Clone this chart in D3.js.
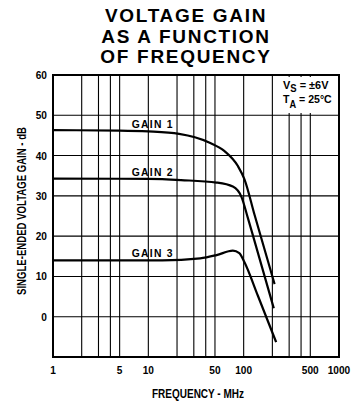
<!DOCTYPE html>
<html>
<head>
<meta charset="utf-8">
<script src="https://cdn.jsdelivr.net/npm/d3@7"></script>
<style>
  body { margin: 0; background: #fff; }
  svg { display: block; }
  text { font-family: "Liberation Sans", Arial, sans-serif; }
</style>
</head>
<body>
<svg width="356" height="408"></svg>
<script>
// values
const titleLines = ["VOLTAGE GAIN", "AS A FUNCTION", "OF FREQUENCY"];
const xTickLabels = [1, 5, 10, 50, 100, 500, 1000];
const xGrid = [2, 3, 4, 5, 10, 20, 30, 40, 50, 100, 200, 300, 400, 500];
const yGrid = [0, 10, 20, 30, 40, 50];
const yTickLabels = [0, 10, 20, 30, 40, 50, 60];

const gain1Freq = [1, 5, 10, 21, 44, 63, 87, 102, 130, 211];
const gain1Db   = [46.3, 46.2, 46, 45.4, 43.2, 41.1, 37.4, 34.1, 25.3, 8.1];
const gain2Freq = [1, 10, 22, 52, 77, 95, 111, 125, 207];
const gain2Db   = [34.3, 34.2, 33.9, 33.3, 32.3, 29.7, 24.4, 20.2, 2.1];
const gain3Freq = [1, 14, 35, 52, 77, 90, 102, 141, 219];
const gain3Db   = [14, 14, 14.5, 15.3, 16.4, 15.8, 13.5, 5.2, -6.3];
const curveNames = ["GAIN 1", "GAIN 2", "GAIN 3"];
const labelAt = [[6.7, 46.9], [6.7, 34.9], [6.7, 14.9]];

const svg = d3.select("svg");

const x = d3.scaleLog().domain([1, 1000]).range([53, 339]);
const y = d3.scaleLinear().domain([-10, 60]).range([357, 75]);

// squeeze text sideways, the original uses a condensed face
const squeeze = 0.88;

// title
svg.append("g").selectAll("text")
  .data(titleLines)
  .join("text")
  .attr("x", 186)
  .attr("y", (d, i) => 22 + i * 20.5)
  .attr("text-anchor", "middle")
  .attr("font-weight", "bold")
  .attr("font-size", 19)
  .attr("letter-spacing", 1.7)
  .text(d => d);

// grid
const grid = svg.append("g").attr("stroke", "#000").attr("stroke-width", 1.1);
grid.selectAll(".vx")
  .data(xGrid)
  .join("line")
  .attr("x1", d => x(d)).attr("x2", d => x(d))
  .attr("y1", y(60)).attr("y2", y(-10));
grid.selectAll(".hy")
  .data(yGrid)
  .join("line")
  .attr("x1", x(1)).attr("x2", x(1000))
  .attr("y1", d => y(d)).attr("y2", d => y(d));

// conditions, on a white patch over the grid
svg.append("rect")
  .attr("x", 280).attr("y", 77)
  .attr("width", 57).attr("height", 36)
  .attr("fill", "#fff");

const note = svg.append("g")
  .attr("font-size", 11.5).attr("font-weight", "bold");
const l1 = note.append("text").attr("transform", "translate(283,89) scale(0.95,1)");
l1.append("tspan").text("V");
l1.append("tspan").attr("font-size", 10).attr("dy", 2.5).text("S");
l1.append("tspan").attr("dy", -2.5).text(" = ±6V");
const l2 = note.append("text").attr("transform", "translate(283,102.5) scale(0.92,1)");
l2.append("tspan").text("T");
l2.append("tspan").attr("font-size", 10).attr("dy", 5.5).text("A");
l2.append("tspan").attr("dy", -5.5).text(" = 25°C");

// frame
svg.append("rect")
  .attr("x", x(1)).attr("y", y(60))
  .attr("width", x(1000) - x(1)).attr("height", y(-10) - y(60))
  .attr("fill", "none").attr("stroke", "#000").attr("stroke-width", 2);

// curves
const line = d3.line()
  .x(d => x(d[0]))
  .y(d => y(d[1]))
  .curve(d3.curveMonotoneX);

const series = [
  d3.zip(gain1Freq, gain1Db),
  d3.zip(gain2Freq, gain2Db),
  d3.zip(gain3Freq, gain3Db)
];

svg.append("g").selectAll("path")
  .data(series)
  .join("path")
  .attr("d", line)
  .attr("fill", "none")
  .attr("stroke", "#000")
  .attr("stroke-width", 2.2);

svg.append("g").selectAll("text")
  .data(curveNames)
  .join("text")
  .attr("transform", (d, i) => `translate(${x(labelAt[i][0])},${y(labelAt[i][1])}) scale(0.9,1)`)
  .attr("font-size", 11.5)
  .attr("font-weight", "bold")
  .attr("letter-spacing", 1.4)
  .text(d => d);

// tick labels
svg.append("g").selectAll("text")
  .data(xTickLabels)
  .join("text")
  .attr("transform", d => `translate(${x(d)},373.5) scale(${squeeze},1)`)
  .attr("text-anchor", "middle")
  .attr("font-size", 11.5)
  .attr("font-weight", "bold")
  .text(d => d);

svg.append("g").selectAll("text")
  .data(yTickLabels)
  .join("text")
  .attr("transform", d => `translate(47,${y(d) + 4}) scale(${squeeze},1)`)
  .attr("text-anchor", "end")
  .attr("font-size", 11.5)
  .attr("font-weight", "bold")
  .text(d => d);

// axis titles
svg.append("text")
  .attr("x", 198).attr("y", 397.5)
  .attr("text-anchor", "middle")
  .attr("font-size", 12)
  .attr("font-weight", "bold")
  .attr("textLength", 92)
  .attr("lengthAdjust", "spacingAndGlyphs")
  .text("FREQUENCY - MHz");

svg.append("text")
  .attr("transform", "translate(25.5,211) rotate(-90)")
  .attr("text-anchor", "middle")
  .attr("font-size", 12.5)
  .attr("font-weight", "bold")
  .attr("textLength", 168)
  .attr("lengthAdjust", "spacingAndGlyphs")
  .text("SINGLE-ENDED VOLTAGE GAIN - dB");
</script>
</body>
</html>
